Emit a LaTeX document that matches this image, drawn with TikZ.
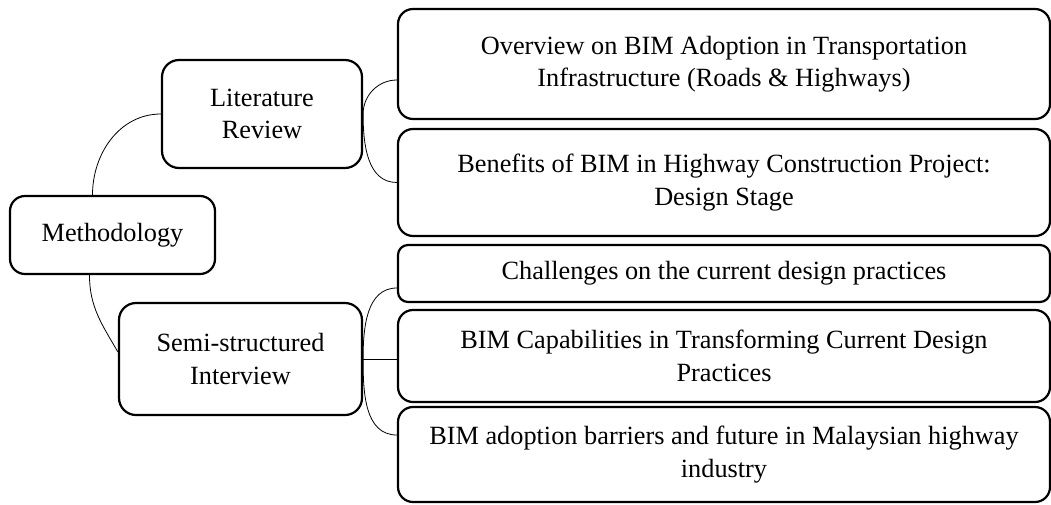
\documentclass[tikz,border=0pt]{standalone}
\usepackage{fontspec}
\setmainfont{Liberation Serif}
\usetikzlibrary{positioning}

\begin{document}
\begin{tikzpicture}[x=1pt,y=-1pt,
    box/.style={draw, line width=2.2pt, rounded corners=15pt, align=center,
                inner sep=0pt, font=\fontsize{26.3}{32.5}\selectfont},
    link/.style={line width=0.8pt}]
\useasboundingbox (0,0) rectangle (1051,504);

% Left side
\node[box, minimum width=205pt, minimum height=78pt] (meth) at (112.5,235) {Methodology};
\node[box, minimum width=200pt, minimum height=108pt, rounded corners=17pt] (lit) at (262,114) {Literature\\Review};
\node[box, minimum width=243pt, minimum height=112pt, rounded corners=17pt] (semi) at (240.5,359) {Semi-structured\\Interview};

% Right side
\node[box, minimum width=652pt, minimum height=110pt] (ov) at (724,64)
    {Overview on BIM Adoption in Transportation\\Infrastructure (Roads \& Highways)};
\node[box, minimum width=652pt, minimum height=107pt] (ben) at (724,182.5)
    {Benefits of BIM in Highway Construction Project:\\Design Stage};
\node[box, minimum width=652pt, minimum height=57pt, rounded corners=10pt] (chal) at (724,273.5)
    {Challenges on the current design practices};
\node[box, minimum width=652pt, minimum height=92pt] (capab) at (724,356)
    {BIM Capabilities in Transforming Current Design\\Practices};
\node[box, minimum width=652pt, minimum height=95pt] (barr) at (724,454.5)
    {BIM adoption barriers and future in Malaysian highway\\industry};

% Connectors
\draw[link] ([xshift=-20pt]meth.north) to[out=90,in=180] (lit.west);
\draw[link] ([xshift=-23pt]meth.south) to[out=-90,in=120] ([yshift=7pt]semi.west);
\draw[link] (lit.east) to[out=90,in=180] ([yshift=-16pt]ov.west);
\draw[link] (lit.east) to[out=-90,in=180] (ben.west);
\draw[link] (semi.east) to[out=90,in=180] ([yshift=-14.5pt]chal.west);
\draw[link] (semi.east) -- (semi.east -| capab.west);
\draw[link] (semi.east) to[out=-90,in=180] ([yshift=19.5pt]barr.west);
\end{tikzpicture}
\end{document}
